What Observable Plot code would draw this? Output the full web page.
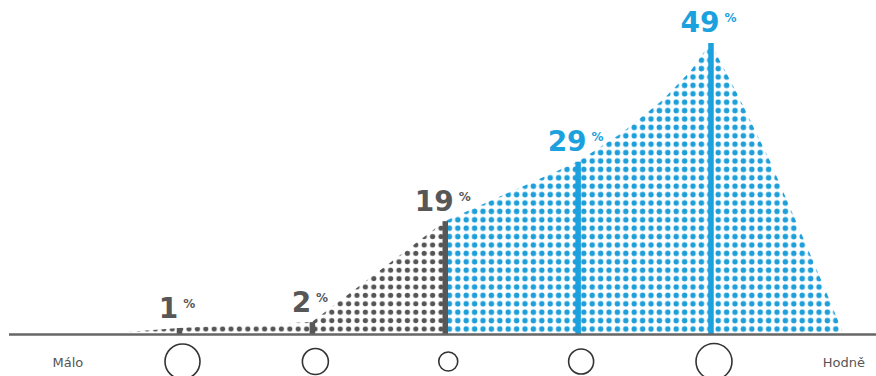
<!DOCTYPE html>
<html>
<head>
<meta charset="utf-8">
<script src="https://cdn.jsdelivr.net/npm/d3@7"></script>
<script src="https://cdn.jsdelivr.net/npm/@observablehq/plot@0.6"></script>
<style>
  html, body { margin: 0; padding: 0; background: #fff; }
  #chart svg { display: block; }
</style>
</head>
<body>
<div id="chart"></div>
<script>
// ---- data ----
const steps = [0, 1, 2, 3, 4];            // scale positions (Málo → Hodně)
const shares = [1, 2, 19, 29, 49];        // percent
const highlighted = [false, false, false, true, true];
const markerRadius = [17.5, 13, 9.5, 12.5, 18];
const endLabels = ["Málo", "Hodně"];
const endSteps = [-0.84, 5.0];
// outline of the dotted distribution shape
const areaX = [-0.59, 0, 1, 2, 3, 3.33, 3.64, 3.85, 4, 4.2, 4.45, 4.73, 4.9, 5.0];
const areaY = [0, 1, 2, 19, 29, 33.8, 39.4, 44.3, 49, 40.5, 29, 14.5, 5.5, 0];

// ---- tables ----
const GRAY = "#575757", BLUE = "#1ba1dd";
const bars = steps.map((s, i) => ({step: s, value: shares[i], color: highlighted[i] ? BLUE : GRAY, r: markerRadius[i]}));
const shape = areaX.map((x, i) => ({x, y: areaY[i]}));
const grayShape = shape.filter(d => d.x <= 2);
const blueShape = shape.filter(d => d.x >= 2);
const ends = endLabels.map((t, i) => ({t, x: endSteps[i]}));

const W = 876, H = 376;
const unit = 132.875, x0 = 179;

const chart = Plot.plot({
  width: W,
  height: H,
  margin: 0,
  x: {domain: [-x0 / unit, (W - x0) / unit], range: [0, W], axis: null},
  y: {domain: [0, 49], range: [334, 43], axis: null},
  color: {type: "identity"},
  r: {type: "identity"},
  marks: [
    Plot.areaY(grayShape, {x: "x", y: "y", fill: "url(#dotsGray)"}),
    Plot.areaY(blueShape, {x: "x", y: "y", fill: "url(#dotsBlue)"}),
    Plot.ruleX(bars, {x: "step", y1: 0, y2: "value", stroke: "color", strokeWidth: 5.5}),
    Plot.ruleY([0], {x1: (9 - x0) / unit, x2: (W - x0) / unit, stroke: "#666", strokeWidth: 2.5}),
    Plot.dot(bars, {x: "step", y: () => -4.55, r: "r", dx: 3, stroke: "#333", strokeWidth: 1.6, fill: "none"}),
    Plot.text(ends, {x: "x", y: () => -4.7, text: "t", fill: "#555", fontSize: 13, fontFamily: "DejaVu Sans", textAnchor: "middle"}),
    Plot.text(bars, {x: "step", y: "value", text: d => String(d.value), fill: "color", dx: -2.5, dy: -20,
      fontSize: 28, fontWeight: "bold", fontFamily: "DejaVu Sans", textAnchor: "middle"})
  ]
});

// dotted fill patterns
const ns = "http://www.w3.org/2000/svg";
const defs = document.createElementNS(ns, "defs");
function pattern(id, color, r) {
  const p = document.createElementNS(ns, "pattern");
  p.setAttribute("id", id);
  p.setAttribute("patternUnits", "userSpaceOnUse");
  p.setAttribute("width", 8.4);
  p.setAttribute("height", 8.4);
  p.setAttribute("x", 0);
  p.setAttribute("y", -2.8);
  const c = document.createElementNS(ns, "circle");
  c.setAttribute("cx", 4.2);
  c.setAttribute("cy", 4.2);
  c.setAttribute("r", r);
  c.setAttribute("fill", color);
  p.appendChild(c);
  defs.appendChild(p);
}
pattern("dotsBlue", "#1e9fda", 2.75);
pattern("dotsGray", "#555", 2.6);
chart.insertBefore(defs, chart.firstChild);

// number + small raised percent sign (last mark group = value labels)
const groups = Array.from(chart.children).filter(e => e.tagName.toLowerCase() === "g");
const labelGroup = groups[groups.length - 1];
labelGroup.querySelectorAll("text").forEach(t => {
  const n = t.textContent;
  while (t.firstChild) t.removeChild(t.firstChild);
  const a = document.createElementNS(ns, "tspan");
  a.textContent = n;
  const b = document.createElementNS(ns, "tspan");
  b.textContent = "%";
  b.setAttribute("font-size", 12);
  b.setAttribute("dx", 5);
  b.setAttribute("dy", -10);
  t.appendChild(a);
  t.appendChild(b);
});

document.getElementById("chart").appendChild(chart);
</script>
</body>
</html>
